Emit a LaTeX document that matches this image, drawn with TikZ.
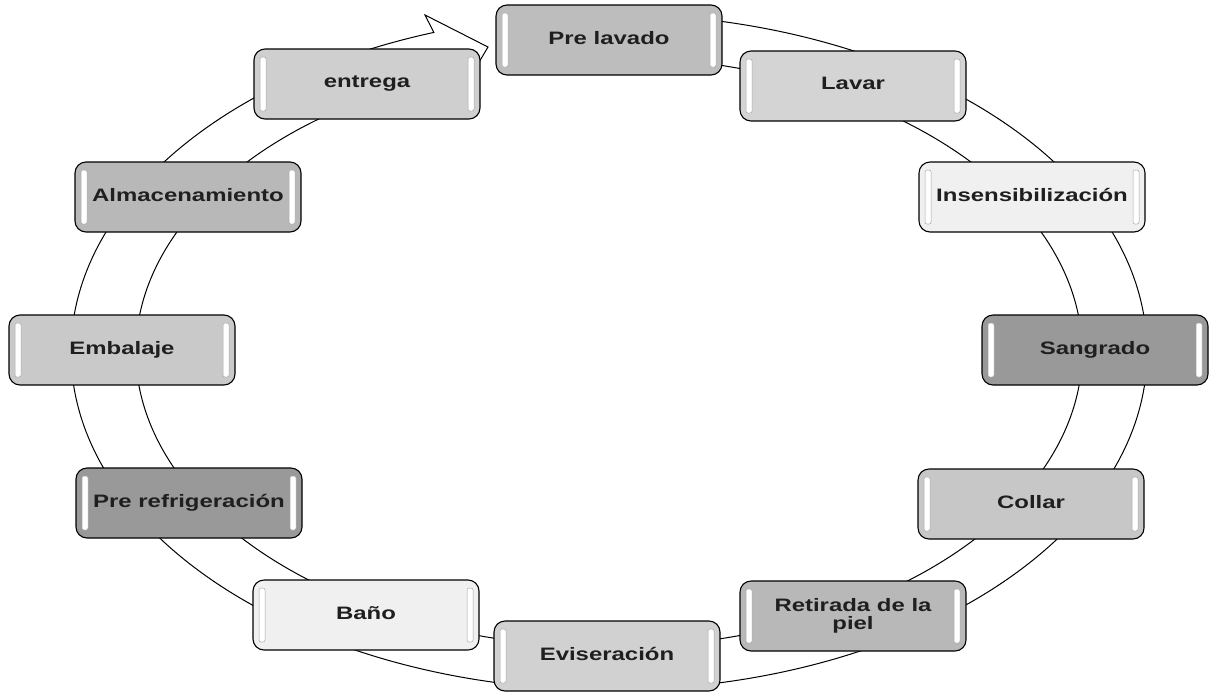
\documentclass[tikz,border=0pt]{standalone}
\usepackage{fontspec}
\setmainfont{Liberation Sans}
\usetikzlibrary{calc}
\definecolor{cA}{gray}{0.74}
\definecolor{cB}{gray}{0.83}
\definecolor{cC}{gray}{0.94}
\definecolor{cD}{gray}{0.60}
\definecolor{cE}{gray}{0.78}
\definecolor{cF}{gray}{0.72}
\definecolor{cG}{gray}{0.82}
\definecolor{cH}{gray}{0.94}
\definecolor{cI}{gray}{0.60}
\definecolor{cJ}{gray}{0.79}
\definecolor{cK}{gray}{0.72}
\definecolor{cL}{gray}{0.81}
\definecolor{txt}{gray}{0.12}
\newcommand{\lbl}[1]{\scalebox{1.33}[1]{\begin{tabular}{@{}c@{}}#1\end{tabular}}}
\tikzset{
  stage/.style={draw=black, line width=1.1pt, rounded corners=11pt,
    minimum width=226pt, minimum height=70pt, inner sep=0pt,
    font=\fontsize{18}{16}\selectfont\bfseries, text=txt,
    path picture={
      \draw[gray!70, line width=0.5pt, fill=white, rounded corners=2pt]
        ([shift={(6pt,-8pt)}]path picture bounding box.north west) rectangle
        ([shift={(12pt,8pt)}]path picture bounding box.south west);
      \draw[gray!70, line width=0.5pt, fill=white, rounded corners=2pt]
        ([shift={(-12pt,-8pt)}]path picture bounding box.north east) rectangle
        ([shift={(-6pt,8pt)}]path picture bounding box.south east);
    }},
  ring/.style={draw=black, line width=1pt, fill=white}
}
\begin{document}
\begin{tikzpicture}[x=1pt,y=-1pt]
\useasboundingbox (0,0) rectangle (1209,694);
\coordinate (c) at (609,352);
\coordinate (barbout) at (425,15);
\coordinate (tip) at (488,47);
\coordinate (barbin) at (462,91);
\path[ring] ($(c)+(-95:538 and 338)$)
  arc[start angle=-95, end angle=251, x radius=538, y radius=338]
  -- (barbout) -- (tip) -- (barbin)
  -- ($(c)+(251:473 and 295)$)
  arc[start angle=251, end angle=-95, x radius=473, y radius=295]
  -- cycle;
\node[stage, fill=cA] (prelavado) at (609,40) {\lbl{Pre lavado}};
\node[stage, fill=cB] (lavar) at (853,86) {\lbl{Lavar}};
\node[stage, fill=cC] (insens) at (1032,197) {\lbl{Insensibilización}};
\node[stage, fill=cD] (sangrado) at (1095,350) {\lbl{Sangrado}};
\node[stage, fill=cE] (collar) at (1031,504) {\lbl{Collar}};
\node[stage, fill=cF] (retirada) at (853,616) {\lbl{Retirada de la\\piel}};
\node[stage, fill=cG] (evis) at (607,656) {\lbl{Eviseración}};
\node[stage, fill=cH] (bano) at (366,615) {\lbl{Baño}};
\node[stage, fill=cI] (prerefr) at (189,503) {\lbl{Pre refrigeración}};
\node[stage, fill=cJ] (embalaje) at (122,350) {\lbl{Embalaje}};
\node[stage, fill=cK] (almac) at (188,197) {\lbl{Almacenamiento}};
\node[stage, fill=cL] (entrega) at (367,84) {\lbl{entrega}};
\end{tikzpicture}
\end{document}
